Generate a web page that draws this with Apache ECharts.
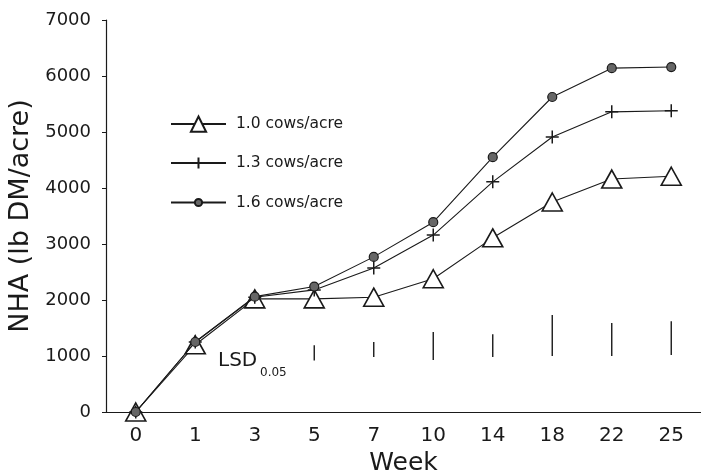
<!DOCTYPE html>
<html>
<head>
<meta charset="utf-8">
<script src="https://cdn.jsdelivr.net/npm/echarts@6/dist/echarts.min.js"></script>
<style>html,body{margin:0;padding:0;background:#fff}#c{width:701px;height:473px}</style>
</head>
<body>
<div id="c"></div>
<script>
const weeks = ['0','1','3','5','7','10','14','18','22','25'];
const cows10 = [0,1200,2020,2020,2050,2380,3110,3750,4160,4210];
const cows13 = [0,1250,2050,2180,2570,3160,4110,4910,5360,5380];
const cows16 = [0,1250,2060,2240,2770,3390,4550,5625,6140,6160];
const lsdWeeks = ['5','7','10','14','18','22','25'];
const lsdLow = [920,980,930,980,1000,1000,1020];
const lsdHigh = [1190,1250,1430,1390,1730,1590,1620];
const seriesNames = ['1.0 cows/acre','1.3 cows/acre','1.6 cows/acre'];
const yMin = 0, yMax = 7000, yStep = 1000;

const FONT = 'DejaVu Sans';
const INK = '#1a1a1a';
const chart = echarts.init(document.getElementById('c'), null, {renderer:'canvas'});

const lsdData = lsdWeeks.map((w,i)=>[weeks.indexOf(w), lsdLow[i], lsdHigh[i]]);

function mkLegend(name, centerY, h){
  return {
    data:[name], orient:'vertical', left:170, top:centerY - h/2,
    itemWidth:55, itemHeight:h, padding:0,
    textStyle:{fontFamily:FONT,fontSize:15.5,color:INK,padding:[0,0,0,5]}
  };
}

chart.setOption({
  animation:false,
  backgroundColor:'#fff',
  grid:{left:106,right:0,top:20,bottom:61,containLabel:false,outerBoundsMode:'none'},
  legend:[
    mkLegend(seriesNames[0],125,19),
    mkLegend(seriesNames[1],162,14),
    mkLegend(seriesNames[2],199,9)
  ],
  xAxis:{
    type:'category',
    data:weeks,
    boundaryGap:true,
    name:'Week',
    nameLocation:'middle',
    nameGap:39,
    nameTextStyle:{fontFamily:FONT,fontSize:25,color:INK},
    axisLine:{lineStyle:{color:INK,width:1.2}},
    axisTick:{inside:true,length:4,lineStyle:{color:INK}},
    axisLabel:{fontFamily:FONT,fontSize:20,color:INK,margin:14},
    splitLine:{show:false}
  },
  yAxis:{
    type:'value',
    min:yMin,max:yMax,interval:yStep,
    name:'NHA (lb DM/acre)',
    nameLocation:'middle',
    nameGap:58,
    nameTextStyle:{fontFamily:FONT,fontSize:27,color:INK},
    axisLine:{show:true,lineStyle:{color:INK,width:1.2}},
    axisTick:{show:true,inside:false,length:4,lineStyle:{color:INK}},
    axisLabel:{fontFamily:FONT,fontSize:18,color:INK,margin:15,formatter:v=>String(v)},
    splitLine:{show:false}
  },
  graphic:[
    {type:'text',left:218,top:351,style:{text:'LSD',fontFamily:FONT,fontSize:20,fill:INK}},
    {type:'text',left:260,top:367,style:{text:'0.05',fontFamily:FONT,fontSize:12,fill:INK}}
  ],
  series:[
    {
      name:seriesNames[0],type:'line',data:cows10,
      symbol:'triangle',symbolSize:[20,18],
      lineStyle:{color:INK,width:1.1},
      itemStyle:{color:'#fff',borderColor:INK,borderWidth:1.6},
      z:3
    },
    {
      name:seriesNames[1],type:'line',data:cows13,
      symbol:'path://M5,0L5,10M0,5L10,5',symbolSize:13,
      lineStyle:{color:INK,width:1.1},
      itemStyle:{color:INK,borderColor:INK,borderWidth:1.5},
      z:4
    },
    {
      name:seriesNames[2],type:'line',data:cows16,
      symbol:'circle',symbolSize:9,
      lineStyle:{color:INK,width:1.1},
      itemStyle:{color:'#666',borderColor:INK,borderWidth:1.2},
      z:5
    },
    {
      name:'LSD',type:'custom',
      data:lsdData,
      encode:{x:0,y:[1,2]},
      renderItem:function(params,api){
        const p1 = api.coord([api.value(0), api.value(1)]);
        const p2 = api.coord([api.value(0), api.value(2)]);
        return {type:'line',shape:{x1:p1[0],y1:p1[1],x2:p2[0],y2:p2[1]},
          style:{stroke:INK,lineWidth:1.4}};
      },
      z:2
    }
  ]
});
</script>
</body>
</html>
